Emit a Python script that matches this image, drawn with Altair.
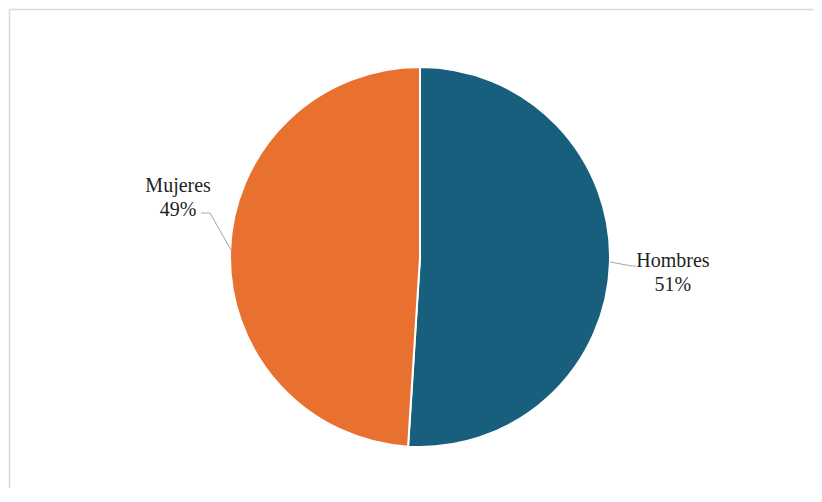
import altair as alt
import pandas as pd

categories = ["Hombres", "Mujeres"]
values = [51, 49]
percent_labels = ["51%", "49%"]
colors = ["#185f7e", "#e8712f"]

df = pd.DataFrame({
    "sexo": categories,
    "valor": values,
    "orden": [0, 1],
    "etiqueta": [f"{c}\n{p}" for c, p in zip(categories, percent_labels)],
})

CX, CY, R = 412, 249, 190
theta_scale = alt.Scale(domain=[0, 100])

pie = alt.Chart(df).mark_arc(
    x=CX, y=CY, outerRadius=R, stroke="white", strokeWidth=2
).encode(
    theta=alt.Theta("valor:Q", stack=True, scale=theta_scale),
    order=alt.Order("orden:Q"),
    color=alt.Color(
        "sexo:N",
        scale=alt.Scale(domain=categories, range=colors),
        legend=None,
    ),
)

text_style = dict(
    x=CX, y=CY, font="Liberation Serif, Times New Roman, serif", fontSize=20,
    color="#1f1f1f", lineBreak="\n", align="center", baseline="middle",
    lineHeight=24,
)

labels_base = alt.Chart(df).transform_window(
    acum="sum(valor)", sort=[alt.SortField("orden")]
).transform_calculate(
    medio="datum.acum - datum.valor / 2"
).encode(
    theta=alt.Theta("medio:Q", stack=None, scale=theta_scale),
    text="etiqueta:N",
)

lbl_h = labels_base.mark_text(radius=253, dy=-4, **text_style).transform_filter(
    alt.datum.sexo == "Hombres"
)
lbl_m = labels_base.mark_text(radius=242, dy=-63, **text_style).transform_filter(
    alt.datum.sexo == "Mujeres"
)

# decorative leader lines and sheet frame
def seg(x1, y1, x2, y2, color="#a6a6a6", w=1):
    return alt.Chart(df.head(1)).mark_rule(color=color, strokeWidth=w).encode(
        x=alt.value(x1), y=alt.value(y1), x2=alt.value(x2), y2=alt.value(y2)
    )

leaders = [
    seg(602, 254, 624, 258),
    seg(624, 258, 628, 258),
    seg(193, 205, 202, 205),
    seg(202, 205, 223, 242),
]
frame = [
    seg(1.5, 1.5, 806, 1.5, color="#dadada", w=1.5),
    seg(1.5, 1.5, 1.5, 484, color="#dadada", w=1.5),
]

chart = alt.layer(*frame, pie, *leaders, lbl_h, lbl_m).properties(
    width=806, height=480, padding=0,
    autosize=alt.AutoSizeParams(type="none"),
).configure_view(stroke=None)

chart.save("out.html", embed_options={"renderer": "svg", "actions": False})
